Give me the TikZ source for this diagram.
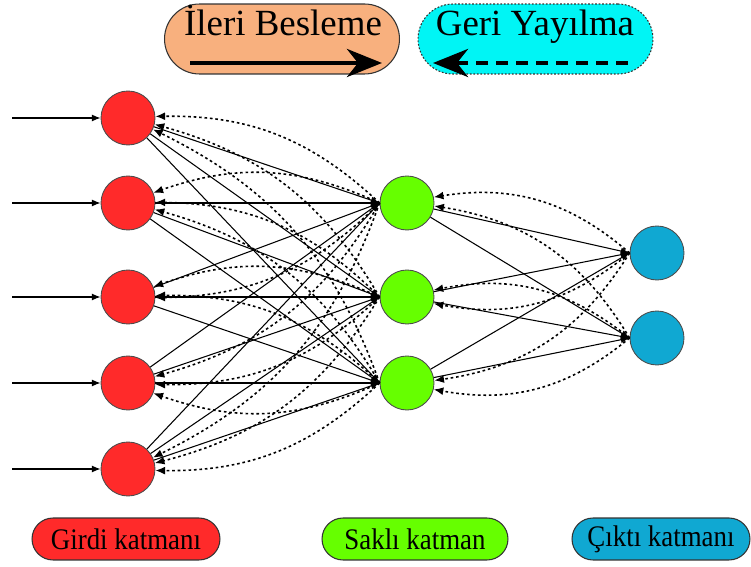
\documentclass[tikz,border=0pt]{standalone}
\usepackage{fontspec}
\setmainfont{Liberation Serif}
\newfontfamily\dar[FakeStretch=0.9]{Liberation Serif}
\usetikzlibrary{arrows.meta, positioning}
\definecolor{girdirenk}{RGB}{255,42,42}
\definecolor{saklirenk}{RGB}{102,255,0}
\definecolor{ciktirenk}{RGB}{16,168,210}
\definecolor{ilerirenk}{RGB}{248,176,126}
\definecolor{gerirenk}{RGB}{0,245,245}
\tikzset{
	noron/.style={circle, draw=black!70, line width=0.5pt, minimum size=1.08cm, inner sep=0pt},
	girdi/.style={noron, fill=girdirenk},
	sakli/.style={noron, fill=saklirenk},
	cikti/.style={noron, fill=ciktirenk},
	ileri/.style={-{Latex[length=5pt,width=4pt]}, line width=0.6pt},
	geri/.style={-{Latex[length=5.5pt,width=4.5pt]}, line width=0.9pt, dash pattern=on 1.5pt off 1.6pt},
	lejant/.style={draw=black!80, line width=0.6pt, rounded corners=0.7cm, minimum width=4.7cm, minimum height=1.4cm},
	etiket/.style={draw=black!80, line width=0.6pt, rounded corners=0.42cm, minimum height=0.84cm, font=\dar\fontsize{17}{19}\selectfont},
	kalinok/.style={-{Stealth[length=0.7cm, width=0.56cm, inset=0.22cm]}, line width=2.6pt},
}
\begin{document}
\begin{tikzpicture}[x=0.02cm, y=-0.02cm]
	\useasboundingbox (0,0) rectangle (751,567);
	% lejant
	\node[lejant, fill=ilerirenk] (ilerikutu) at (282,39) {};
	\node[anchor=base, font=\fontsize{21}{25}\selectfont] (ileriyazi) at (283,36) {İleri Besleme};
	\coordinate (ib) at (190,63);
	\coordinate (is) at (382,63);
	\draw[kalinok] (ib) -- (is);
	\node[lejant, fill=gerirenk, draw=black!80, dash pattern=on 1pt off 1pt] (gerikutu) at (535.5,39) {};
	\node[anchor=base, font=\fontsize{21}{25}\selectfont] (geriyazi) at (535,36) {Geri Yayılma};
	\coordinate (gb) at (628,63);
	\coordinate (gs) at (433,63);
	\draw[kalinok, dash pattern=on 0.24cm off 0.16cm] (gb) -- (gs);
	% katmanlar
	\foreach \i/\yi in {1/118,2/203,3/297,4/383,5/469} {
		\node[girdi] (g\i) at (128,\yi) {};
		\coordinate (x\i) at (12,\yi);
		\draw[ileri] (x\i) -- (g\i.west);
	}
	\foreach \j/\yj in {1/203,2/297,3/383}
		\node[sakli] (s\j) at (407,\yj) {};
	\foreach \k/\yk in {1/253,2/338}
		\node[cikti] (c\k) at (657,\yk) {};
	% girdi - sakli
	\foreach \i/\yi in {1/118,2/203,3/297,4/383,5/469}
		\foreach \j/\yj in {1/203,2/297,3/383} {
			\draw[ileri] (g\i) -- (s\j.west);
			\pgfmathsetmacro\aci{\yi>\yj ? 22 : (\yi<\yj ? -22 : (\yi>300 ? 22 : -22))}
			\draw[geri] (s\j.west) to[bend left=\aci] (g\i);
		}
	% sakli - cikti
	\foreach \j/\yj in {1/203,2/297,3/383}
		\foreach \k/\yk in {1/253,2/338} {
			\draw[ileri] (s\j) -- (c\k.west);
			\pgfmathsetmacro\aci{\yj>\yk ? 25 : -25}
			\draw[geri] (c\k.west) to[bend left=\aci] (s\j);
		}
	% etiketler
	\node[etiket, fill=girdirenk, minimum width=3.76cm] (girdiet) at (126,539) {Girdi katmanı};
	\node[etiket, fill=saklirenk, minimum width=3.72cm] (saklet) at (415,539) {Saklı katman};
	\node[etiket, fill=ciktirenk, minimum width=3.56cm] (ciktiet) at (661,539) {Çıktı katmanı};
\end{tikzpicture}
\end{document}
